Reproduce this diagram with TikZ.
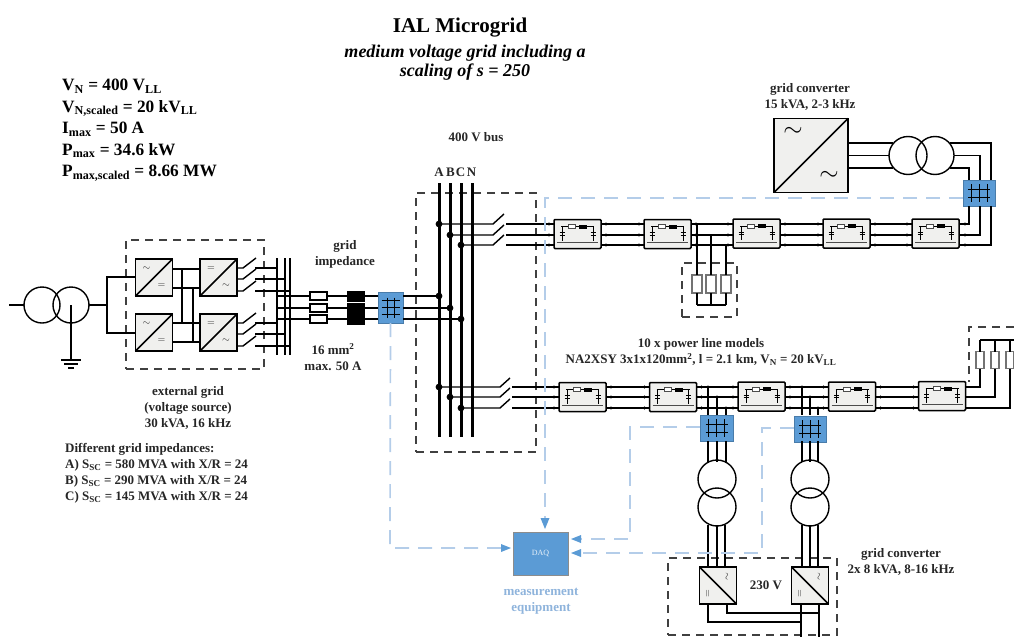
\documentclass[tikz,border=0pt]{standalone}
\usepackage{fontspec}
\usetikzlibrary{calc}
\setmainfont{Liberation Serif}
\definecolor{daqblue}{HTML}{5B9BD5}
\definecolor{dashblue}{HTML}{B4CDE9}
\definecolor{boxgray}{HTML}{F0F0EE}
\definecolor{labelblue}{HTML}{8FB4DC}
\tikzset{
	wire/.style={line width=1.4pt},
	thinwire/.style={line width=1.1pt},
	busbar/.style={line width=3pt},
	frame/.style={draw=black!75,line width=1.4pt,dash pattern=on 8pt off 6pt},
	probe/.style={draw=dashblue,line width=1.7pt,dash pattern=on 14pt off 9pt},
	conv/.style={draw,fill=boxgray,line width=1.6pt,inner sep=0pt,outer sep=0pt},
	linebox/.style={draw,fill=boxgray,line width=1.5pt,inner sep=0pt,outer sep=0pt,minimum width=47pt,minimum height=29pt,rounded corners=1pt},
	sensor/.style={draw=daqblue!80!black,fill=daqblue,line width=.6pt,inner sep=0pt,outer sep=0pt},
	loadres/.style={draw=black!55,fill=white,line width=1.1pt,inner sep=0pt,outer sep=0pt},
	lbl/.style={font=\bfseries\fontsize{13}{16}\selectfont,align=center,text=black!85},
}
% power line model
\newcommand{\linemodel}[3]{
	\node[linebox] (#1) at (#2,#3) {};
	\draw[line width=.7pt] ($(#1.north west)+(7,7)$) -- ($(#1.north east)+(-7,7)$);
	\draw[line width=1pt,black!70] ($(#1.north west)+(3,23)$) -- ($(#1.north east)+(-3,23)$);
	\node[draw=black!70,fill=white,line width=.6pt,inner sep=0pt,minimum width=7pt,minimum height=4pt] (#1r) at ($(#1.north west)+(18,7)$) {};
	\node[fill=black,inner sep=0pt,minimum width=8pt,minimum height=4pt] (#1l) at ($(#1.north west)+(29,7)$) {};
	\foreach \cx in {8,39}{
		\draw[line width=.7pt] ($(#1.north west)+(\cx,7)$) -- ($(#1.north west)+(\cx,21)$);
		\draw[line width=.9pt] ($(#1.north west)+(\cx-2.5,13)$) -- ($(#1.north west)+(\cx+2.5,13)$);
		\draw[line width=.9pt] ($(#1.north west)+(\cx-2.5,15.5)$) -- ($(#1.north west)+(\cx+2.5,15.5)$);
	}
}
% wires between two line models
\newcommand{\linkwires}[3]{
	\foreach \yy in {#3}{
		\draw[wire] (#1.east |- 0,\yy) -- (#2.west |- 0,\yy);
		\fill ($(#1.east |- 0,\yy)+(5,0)$) circle (1.6pt);
		\fill ($(#2.west |- 0,\yy)+(-5,0)$) circle (1.6pt);
	}
}
% blue sensor with three phases up or across
\newcommand{\sensorv}[5]{
	\node[sensor,minimum width=#4pt,minimum height=#5pt] (#1) at (#2,#3) {};
	\foreach \dx in {-8,0,8} \draw[line width=.9pt] (#2+\dx,#3-9) -- (#2+\dx,#3+9);
	\foreach \dy in {-4,4} \draw[line width=.9pt] (#2-11,#3+\dy) -- (#2+11,#3+\dy);
}
\newcommand{\sensorh}[5]{
	\node[sensor,minimum width=#4pt,minimum height=#5pt] (#1) at (#2,#3) {};
	\foreach \dy in {-7,0,7} \draw[line width=.9pt] (#2-9,#3+\dy) -- (#2+9,#3+\dy);
	\foreach \dx in {-3.5,3.5} \draw[line width=.9pt] (#2+\dx,#3-10) -- (#2+\dx,#3+10);
}
% small converter
\newcommand{\smallconv}[5]{
	\node[conv,minimum size=37pt] (#1) at (#2,#3) {};
	\draw[line width=1.5pt] (#1.south west) -- (#1.north east);
	\node[font=\normalsize,text=black!85,inner sep=0pt] (#1a) at ($(#1.north west)+(11,10)$) {$#4$};
	\node[font=\normalsize,text=black!85,inner sep=0pt] (#1b) at ($(#1.south east)+(-11,-10)$) {$#5$};
}
% converter at the bottom, other diagonal
\newcommand{\lowconv}[3]{
	\node[conv,minimum size=37pt] (#1) at (#2,#3) {};
	\draw[line width=1.5pt] (#1.north west) -- (#1.south east);
	\node[rotate=90,font=\normalsize,text=black!85,inner sep=0pt] (#1a) at ($(#1.north east)+(-9,10)$) {$\sim$};
	\node[rotate=90,font=\normalsize,text=black!85,inner sep=0pt] (#1b) at ($(#1.south west)+(9,-10)$) {$=$};
}
\begin{document}
\begin{tikzpicture}[x=1pt,y=-1pt]
	\useasboundingbox (0,0) rectangle (1014,637);
	
	% Titles
	\node[font=\bfseries\fontsize{21}{23}\selectfont] (title) at (460,28) {IAL Microgrid};
	\node[font=\bfseries\itshape\fontsize{18}{19}\selectfont,align=center] (subtitle) at (465,63) {medium voltage grid including a\\scaling of s = 250};
	
	% Ratings
	\node[font=\bfseries\fontsize{17.3}{21.5}\selectfont,align=left,anchor=north west,inner sep=0pt] (ratings) at (62,79) {V\textsubscript{N} = 400 V\textsubscript{LL}\\V\textsubscript{N,scaled} = 20 kV\textsubscript{LL}\\I\textsubscript{max} = 50 A\\P\textsubscript{max} = 34.6 kW\\P\textsubscript{max,scaled} = 8.66 MW};
	
	% Labels
	\node[lbl] (buslabel) at (476,137) {400 V bus};
	\node[lbl,inner sep=0pt] (phaseA) at (439,172) {A};
	\node[lbl,inner sep=0pt] (phaseB) at (450.5,172) {B};
	\node[lbl,inner sep=0pt] (phaseC) at (460.5,172) {C};
	\node[lbl,inner sep=0pt] (phaseN) at (471.5,172) {N};
	\node[lbl] (implabel) at (345,254) {grid\\impedance};
	\node[lbl] (cablelabel) at (333,357) {16 mm\textsuperscript{2}\\max. 50 A};
	\node[lbl] (extlabel) at (188,408) {external grid\\(voltage source)\\30 kVA, 16 kHz};
	\node[lbl,align=left,anchor=north west,inner sep=0pt] (implist) at (65,443.5) {Different grid impedances:\\A) S\textsubscript{SC} = 580 MVA with X/R = 24\\B) S\textsubscript{SC} = 290 MVA with X/R = 24\\C) S\textsubscript{SC} = 145 MVA with X/R = 24};
	\node[lbl] (gc1label) at (810,97) {grid converter\\15 kVA, 2-3 kHz};
	\node[lbl] (linelabel) at (701,352) {10 x power line models\\NA2XSY 3x1x120mm\textsuperscript{2}, l = 2.1 km, V\textsubscript{N} = 20 kV\textsubscript{LL}};
	\node[lbl] (gc2label) at (901,562) {grid converter\\2x 8 kVA, 8-16 kHz};
	\node[lbl,text=labelblue] (daqlabel) at (541,601) {measurement\\equipment};
	\node[lbl] (lvlabel) at (766,585) {230 V};
	
	% Dashed frames
	\node[frame,minimum width=138pt,minimum height=129pt,inner sep=0pt] (extframe) at (195,304.5) {};
	\node[frame,minimum width=120pt,minimum height=259pt,inner sep=0pt] (busframe) at (476,322.5) {};
	\node[frame,minimum width=55pt,minimum height=54pt,inner sep=0pt] (loadframe) at (709.5,290) {};
	\node[frame,minimum width=169pt,minimum height=77pt,inner sep=0pt] (lvframe) at (752.5,596.5) {};
	\draw[frame] (1014,327) -- (969,327) -- (969,382);
	
	% Source transformer
	\draw[wire] (42,305) circle (18);
	\draw[wire] (71,305) circle (18);
	\coordinate (srcin) at (9,305);
	\coordinate (srcout) at (107,305);
	\coordinate (earth) at (71,360);
	\draw[wire] (srcin) -- (24,305);
	\draw[wire] (89,305) -- (srcout);
	\draw[wire] (71,305) -- (earth);
	\draw[wire] ($(earth)+(-10,0)$) -- ($(earth)+(10,0)$);
	\draw[wire] ($(earth)+(-7,4)$) -- ($(earth)+(7,4)$);
	\draw[wire] ($(earth)+(-3,8)$) -- ($(earth)+(3,8)$);
	
	% External grid converters
	\smallconv{acdcA}{154}{277.5}{\sim}{=}
	\smallconv{dcacA}{218.5}{277.5}{=}{\sim}
	\smallconv{acdcB}{154}{332.5}{\sim}{=}
	\smallconv{dcacB}{218.5}{332.5}{=}{\sim}
	\draw[wire] (srcout) -- (107,277) -- (acdcA.west |- 0,277);
	\draw[wire] (srcout) -- (107,333) -- (acdcB.west |- 0,333);
	\foreach \yy in {269,288} \draw[wire] (acdcA.east |- 0,\yy) -- (dcacA.west |- 0,\yy);
	\foreach \yy in {323,342} \draw[wire] (acdcB.east |- 0,\yy) -- (dcacB.west |- 0,\yy);
	\draw[wire] (182,269) -- (182,323);
	\draw[wire] (193,288) -- (193,342);
	
	% Switches and collecting bars
	\foreach \yy/\xe in {268/277,279/285,291/290,323/277,334/285,346/290}{
		\draw[wire] (dcacA.east |- 0,\yy) -- (243,\yy) -- (256,\yy-10);
		\draw[wire] (255,\yy) -- (\xe,\yy);
	}
	\foreach \xx in {277,285,290} \draw[wire] (\xx,258) -- (\xx,355);
	
	% Grid impedance
	\sensorh{sensorgrid}{390.5}{307.5}{25}{31}
	\foreach \yy/\xe in {296/439,308/450,319/461}{
		\draw[wire] (277,\yy) -- (378,\yy);
		\draw[wire] (sensorgrid.east |- 0,\yy) -- (\xe,\yy);
		\fill (\xe,\yy) circle (3.4pt);
	}
	\foreach \yy [count=\ii] in {296,308,319}{
		\node[loadres,draw=black,minimum width=17pt,minimum height=8pt] (zr\ii) at (318.5,\yy) {};
		\node[fill=black,inner sep=0pt,minimum width=18pt,minimum height=11pt] (zl\ii) at (356,\yy) {};
	}
	
	% Buses
	\foreach \xx in {439,450,461,472} \draw[busbar] (\xx,183) -- (\xx,437);
	
	% Upper feeder
	\linemodel{lineA}{577.5}{234}
	\linemodel{lineB}{667.5}{234}
	\linemodel{lineC}{756.5}{233.5}
	\linemodel{lineD}{846.5}{233.5}
	\linemodel{lineE}{935.5}{233.5}
	\foreach \yy/\xe in {224/439,235/450,245/461}{
		\fill (\xe,\yy) circle (3.4pt);
		\draw[wire] (\xe,\yy) -- (493,\yy) -- (504,\yy-10);
		\draw[wire] (506,\yy) -- (lineA.west |- 0,\yy);
		\fill (lineA.west |- 0,\yy) ++(-5,0) circle (1.6pt);
	}
	\linkwires{lineA}{lineB}{224,235,245}
	\linkwires{lineB}{lineC}{224,235,245}
	\linkwires{lineC}{lineD}{224,235,245}
	\linkwires{lineD}{lineE}{224,235,245}
	
	% Load on the upper feeder
	\foreach \xx/\yy [count=\ii] in {697/224,711/235,726/245}{
		\node[loadres,minimum width=10pt,minimum height=18pt] (loadA\ii) at (\xx,284) {};
		\draw[wire] (\xx,\yy) -- (loadA\ii.north);
		\draw[wire] (loadA\ii.south) -- (\xx,305);
	}
	\draw[wire] (loadA1.south |- 0,305) -- (loadA3.south |- 0,305);
	
	% Upper grid converter
	\node[conv,minimum size=74pt,line width=1.8pt] (gcbig) at (811,155.5) {};
	\draw[line width=1.6pt] (gcbig.south west) -- (gcbig.north east);
	\node[font=\fontsize{30}{30}\selectfont,inner sep=0pt] (gcbiga) at (793,132) {$\sim$};
	\node[font=\fontsize{30}{30}\selectfont,inner sep=0pt] (gcbigb) at (829,176) {$\sim$};
	\draw[wire] (908,155.5) circle (19);
	\draw[wire] (935,155.5) circle (19);
	\sensorv{sensorgc}{979}{193}{32}{26}
	\foreach \yy/\xo/\xa/\xb in {143/893/950/991,155.5/889/954/980,168/893/950/969}{
		\draw[wire] (gcbig.east |- 0,\yy) -- (\xo,\yy);
		\draw[wire] (\xa,\yy) -- (\xb,\yy) -- (\xb,180);
	}
	\foreach \yy/\xb in {224/969,235/980,245/991}{
		\draw[wire] (lineE.east |- 0,\yy) -- (\xb,\yy) -- (\xb,206);
		\fill ($(lineE.east |- 0,\yy)+(6,0)$) circle (1.6pt);
	}
	
	% Lower feeder
	\linemodel{lineF}{582.5}{397}
	\linemodel{lineG}{673}{397}
	\linemodel{lineH}{761.5}{396.5}
	\linemodel{lineI}{852}{396.5}
	\linemodel{lineJ}{942}{396}
	\foreach \yy/\xe in {387/439,397/450,408/461}{
		\fill (\xe,\yy) circle (3.4pt);
		\draw[wire] (\xe,\yy) -- (500,\yy) -- (510,\yy-9);
		\draw[wire] (512,\yy) -- (lineF.west |- 0,\yy);
		\fill (lineF.west |- 0,\yy) ++(-5,0) circle (1.6pt);
	}
	\linkwires{lineF}{lineG}{387,397,408}
	\linkwires{lineG}{lineH}{387,397,408}
	\linkwires{lineH}{lineI}{387,397,408}
	\linkwires{lineI}{lineJ}{387,397,408}
	
	% Load at the end of the lower feeder
	\foreach \yy/\xx [count=\ii] in {387/980,397/995,408/1010}{
		\node[loadres,minimum width=8pt,minimum height=17pt] (loadB\ii) at (\xx,360) {};
		\draw[wire] (lineJ.east |- 0,\yy) -- (\xx,\yy) -- (loadB\ii.south);
		\draw[wire] (loadB\ii.north) -- (\xx,340);
	}
	\draw[wire] (loadB1.north |- 0,340) -- (1014,340);
	
	% Lower sensors, transformers and converters
	\sensorv{sensorC}{716.5}{428}{33}{26}
	\sensorv{sensorD}{810}{429}{32}{26}
	\foreach \xx/\yy in {708/387,717/397,726/408,802/387,810/397,818/408}{
		\draw[wire] (\xx,\yy) -- (\xx,415);
		\draw[wire] (\xx,441) -- (\xx,462);
		\fill (\xx,\yy) circle (1.6pt);
	}
	\foreach \xx in {717,810}{
		\draw[wire] (\xx,479) circle (19);
		\draw[wire] (\xx,507) circle (19);
	}
	\lowconv{gcC}{718}{585.5}
	\lowconv{gcD}{810}{585.5}
	\foreach \xx in {708,717,725} \draw[wire] (\xx,525) -- (\xx,567);
	\foreach \xx in {802,810,818} \draw[wire] (\xx,525) -- (\xx,567);
	\draw[thinwire] (708,604) -- (708,622) -- (801,622);
	\draw[thinwire] (727,604) -- (727,613) -- (819,613);
	\draw[thinwire] (801,604) -- (801,637);
	\draw[thinwire] (819,604) -- (819,637);
	
	% Measurement
	\node[draw=black!45,fill=daqblue,line width=.8pt,minimum width=55pt,minimum height=43pt,inner sep=0pt,outer sep=0pt,text=white!85!daqblue,font=\fontsize{8}{9}\selectfont] (daq) at (540.5,553.5) {DAQ};
	\draw[probe] (sensorgc.west |- 0,198) -- (545,198) -- (545,518);
	\draw[probe] (sensorgrid.south) -- (390,548) -- (501,548);
	\draw[probe] (sensorC.west |- 0,427) -- (630,427) -- (630,539) -- (581,539);
	\draw[probe] (sensorD.west |- 0,428) -- (762,428) -- (762,553) -- (581,553);
	\fill[daqblue] (545,529) -- ++(-4.5,-11) -- ++(9,0) -- cycle;
	\fill[daqblue] (511,548) -- ++(-10,-4) -- ++(0,8) -- cycle;
	\fill[daqblue] (571,539) -- ++(10,-4) -- ++(0,8) -- cycle;
	\fill[daqblue] (571,553) -- ++(10,-4) -- ++(0,8) -- cycle;
	
\end{tikzpicture}
\end{document}
